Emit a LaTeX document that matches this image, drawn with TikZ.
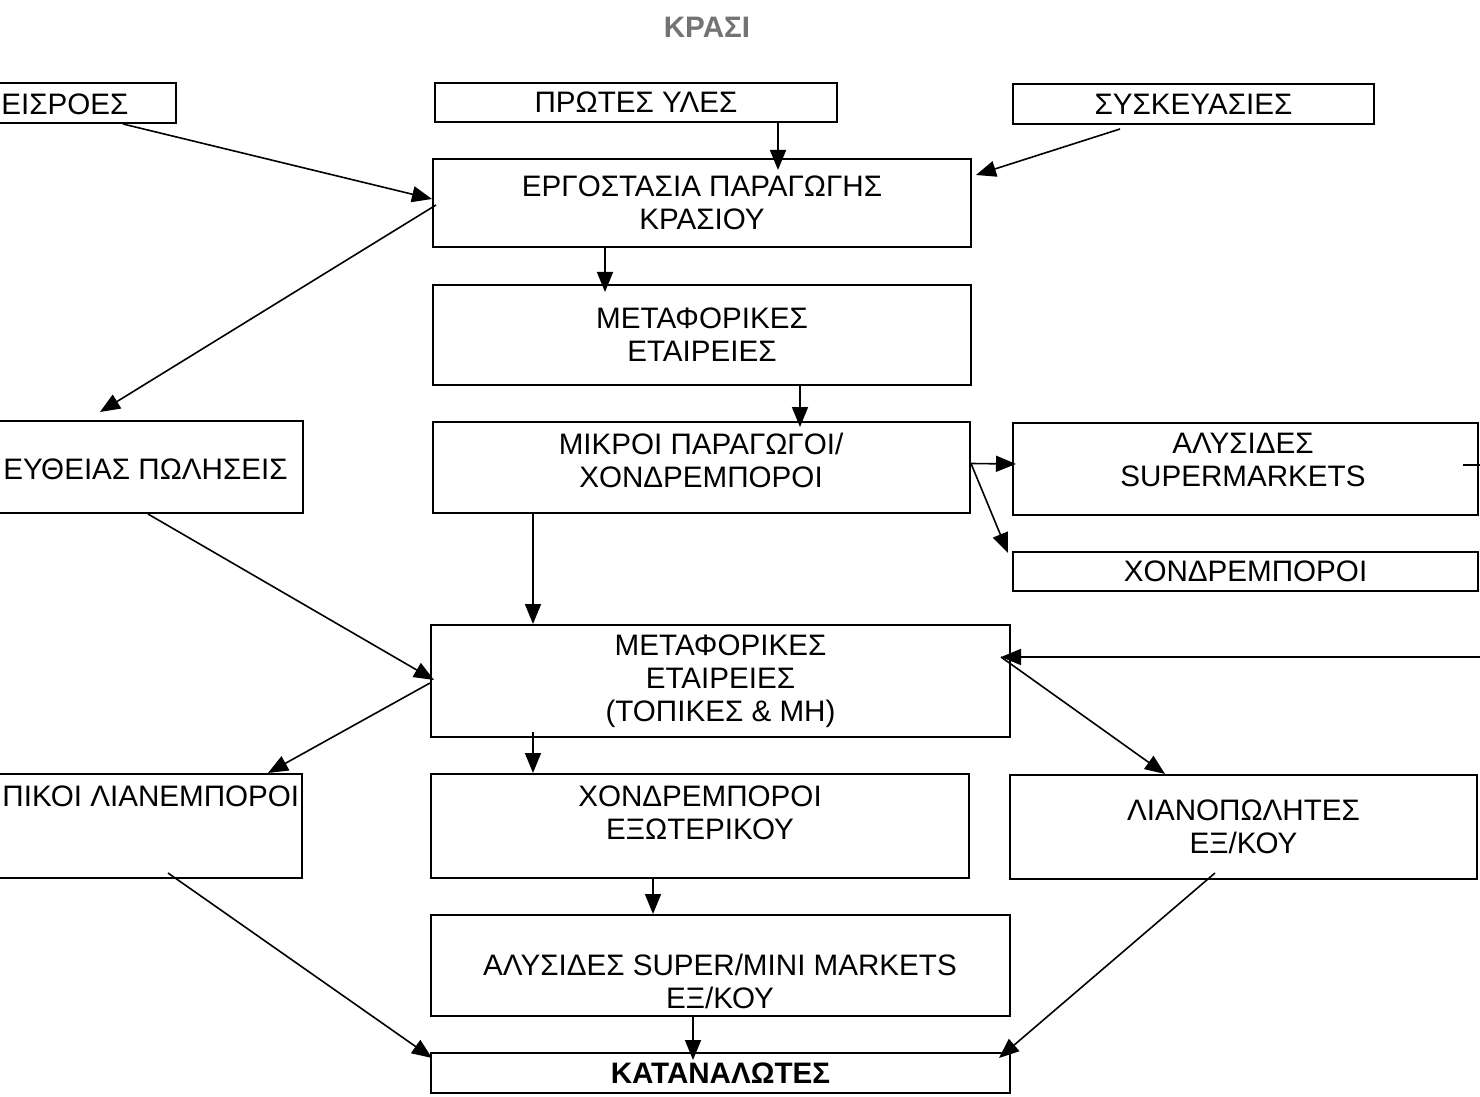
\documentclass[tikz,border=0pt]{standalone}
\usepackage{fontspec}
\setmainfont{Liberation Sans}
\usetikzlibrary{arrows.meta}

\begin{document}
\begin{tikzpicture}[x=0.5pt,y=-0.5pt,
        box/.style={draw,line width=1pt,inner sep=0pt,align=center,font=\fontsize{14.8}{16.5}\selectfont},
        lbl/.style={inner sep=0pt,align=center,font=\fontsize{14.8}{16.5}\selectfont},
        arr/.style={line width=0.8pt,-{Triangle[length=10pt,width=8pt]}}]
        \useasboundingbox (0,0) rectangle (1480,1097);
        \clip (0,0) rectangle (1480,1097);
        % title
        \node[lbl,font=\fontsize{14.8}{16.5}\selectfont\bfseries,text=black!55] (title) at (707,27) {ΚΡΑΣΙ};
        % top row
        \node[box,minimum width=118pt,minimum height=20pt] (eisroes) at (58,103) {};
        \node[lbl,anchor=base west] (eisroes-t) at (1,115) {ΕΙΣΡΟΕΣ};
        \node[box,minimum width=201pt,minimum height=19.5pt] (protes) at (636,102.5) {ΠΡΩΤΕΣ ΥΛΕΣ};
        \node[box,minimum width=180.5pt,minimum height=20pt] (syskev) at (1193.5,104) {ΣΥΣΚΕΥΑΣΙΕΣ};
        % factory and transport
        \node[box,minimum width=269pt,minimum height=44pt] (ergost) at (702,203) {ΕΡΓΟΣΤΑΣΙΑ ΠΑΡΑΓΩΓΗΣ\\ΚΡΑΣΙΟΥ};
        \node[box,minimum width=269pt,minimum height=50pt] (metaf1) at (702,335) {ΜΕΤΑΦΟΡΙΚΕΣ\\ΕΤΑΙΡΕΙΕΣ};
        % third row
        \node[box,minimum width=181.5pt,minimum height=46pt] (apefth) at (121.5,467) {};
        \node[lbl,anchor=base west] (apefth-t) at (3,479) {ΕΥΘΕΙΑΣ ΠΩΛΗΣΕΙΣ};
        \node[box,minimum width=268.5pt,minimum height=45.5pt] (mikroi) at (701.5,467.5) {};
        \node[lbl] (mikroi-t) at (701,460) {ΜΙΚΡΟΙ ΠΑΡΑΓΩΓΟΙ/\\ΧΟΝΔΡΕΜΠΟΡΟΙ};
        \node[box,minimum width=232.5pt,minimum height=46pt] (supermk) at (1245.5,469) {};
        \node[lbl] (supermk-t) at (1243,460) {ΑΛΥΣΙΔΕΣ\\SUPERMARKETS};
        \node[box,minimum width=232.5pt,minimum height=19.5pt] (chondr) at (1245.5,571.5) {ΧΟΝΔΡΕΜΠΟΡΟΙ};
        % local and abroad transport
        \node[box,minimum width=289.5pt,minimum height=56pt] (metaf2) at (720.5,681) {ΜΕΤΑΦΟΡΙΚΕΣ\\ΕΤΑΙΡΕΙΕΣ\\(ΤΟΠΙΚΕΣ \& ΜΗ)};
        \coordinate (redge) at (1482,657);
        % fifth row
        \node[box,minimum width=181pt,minimum height=52pt] (topikoi) at (121,826) {};
        \node[lbl,anchor=base west] (topikoi-t) at (2,806) {ΠΙΚΟΙ ΛΙΑΝΕΜΠΟΡΟΙ};
        \node[box,minimum width=269pt,minimum height=52pt] (chondrex) at (700,826) {};
        \node[lbl] (chondrex-t) at (700,812.5) {ΧΟΝΔΡΕΜΠΟΡΟΙ\\ΕΞΩΤΕΡΙΚΟΥ};
        \node[box,minimum width=233.5pt,minimum height=52pt] (lianop) at (1243.5,827) {ΛΙΑΝΟΠΩΛΗΤΕΣ\\ΕΞ/ΚΟΥ};
        % bottom
        \node[box,minimum width=289.5pt,minimum height=50.5pt] (alysides) at (720.5,965.5) {};
        \node[lbl] (alysides-t) at (720,981.5) {ΑΛΥΣΙΔΕΣ SUPER/MINI MARKETS\\ΕΞ/ΚΟΥ};
        \node[box,minimum width=289.5pt,minimum height=20pt,font=\fontsize{14.8}{16.5}\selectfont\bfseries] (katanal) at (720.5,1073) {ΚΑΤΑΝΑΛΩΤΕΣ};
        % connectors
        \draw[arr] ([xshift=32.5pt]eisroes.south) -- ([yshift=2pt]ergost.west);
        \draw[arr] ([xshift=71pt]protes.south) -- ([xshift=38pt,yshift=-6pt]ergost.north);
        \draw[arr] ([xshift=-36.75pt,yshift=-2pt]syskev.south) -- ([xshift=2pt,yshift=14pt]ergost.east);
        \draw[arr] ([xshift=2pt,yshift=-1pt]ergost.west) -- ([xshift=-10.75pt,yshift=4pt]apefth.north);
        \draw[arr] ([xshift=-48.5pt]ergost.south) -- ([xshift=-48.5pt,yshift=-4pt]metaf1.north);
        \draw[arr] ([xshift=49pt]metaf1.south) -- ([xshift=49.25pt,yshift=-3pt]mikroi.north);
        \draw[arr] ([xshift=-84.25pt]mikroi.south) -- ([xshift=-93.75pt]metaf2.north);
        \draw[arr] ([yshift=2pt]mikroi.east) -- ([xshift=2pt,yshift=2.5pt]supermk.west);
        \draw[arr] ([yshift=2pt]mikroi.east) -- ([xshift=-2pt,yshift=-1pt]chondr.north west);
        \draw[line width=0.8pt] ([xshift=-8pt,yshift=2pt]supermk.east) -- ++(12pt,0);
        \draw[arr] ([xshift=13.25pt]apefth.south) -- ([xshift=2pt,yshift=0.5pt]metaf2.west);
        \draw[arr] ([yshift=-1pt]metaf2.west) -- ([xshift=73.5pt]topikoi.north);
        \draw[arr] ([xshift=-93.75pt,yshift=3pt]metaf2.south) -- ([xshift=-83.5pt]chondrex.north);
        \draw[arr] (redge) -- ([xshift=-5pt,yshift=12pt]metaf2.east);
        \draw[arr] ([xshift=-5pt,yshift=12pt]metaf2.east) -- ([xshift=-39.25pt]lianop.north);
        \draw[arr] ([xshift=23.5pt,yshift=3pt]topikoi.south) -- ([xshift=1pt,yshift=7.5pt]katanal.west);
        \draw[arr] ([xshift=-23.5pt]chondrex.south) -- ([xshift=-33.75pt]alysides.north);
        \draw[arr] ([xshift=-13.75pt]alysides.south) -- ([xshift=-13.75pt,yshift=-4pt]katanal.north);
        \draw[arr] ([xshift=-14.25pt,yshift=3.5pt]lianop.south) -- ([xshift=-6pt,yshift=7.5pt]katanal.east);
\end{tikzpicture}
\end{document}
